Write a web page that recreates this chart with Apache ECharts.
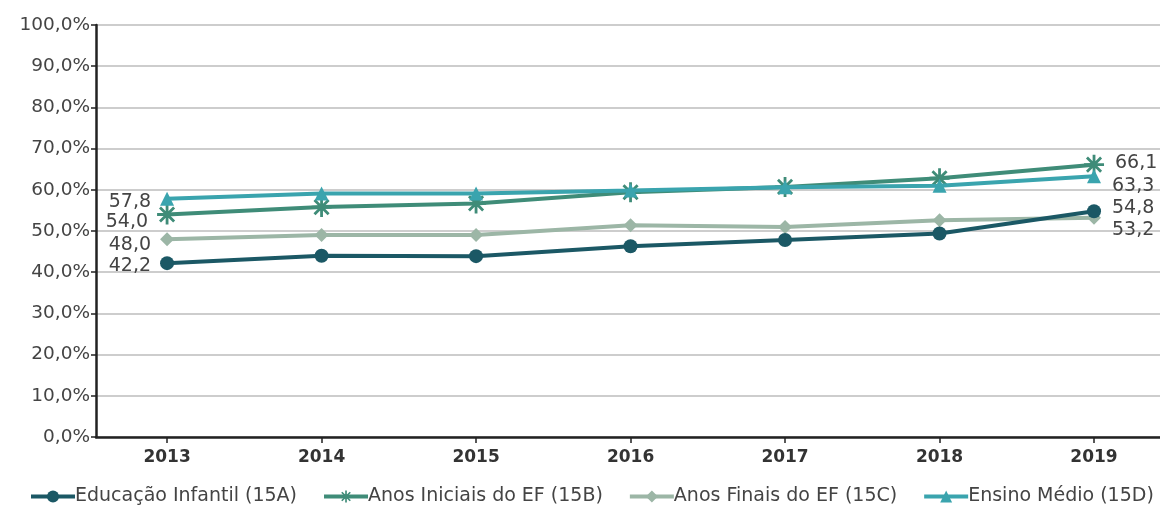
<!DOCTYPE html>
<html><head><meta charset="utf-8">
<script src="https://cdn.jsdelivr.net/npm/echarts@6/dist/echarts.min.js"></script>
<style>html,body{margin:0;padding:0;background:#fff}#c{width:1160px;height:514px}</style>
</head><body><div id="c"></div>
<script>
const categories = [2013, 2014, 2015, 2016, 2017, 2018, 2019];
const seriesNames = ['Educação Infantil (15A)','Anos Iniciais do EF (15B)','Anos Finais do EF (15C)','Ensino Médio (15D)'];
const infantil = [42.2, 44.0, 43.9, 46.3, 47.8, 49.4, 54.8];
const iniciais = [54.0, 55.8, 56.7, 59.4, 60.7, 62.8, 66.1];
const finais   = [48.0, 49.0, 49.0, 51.4, 51.0, 52.6, 53.2];
const medio    = [57.8, 59.1, 59.1, 59.8, 60.6, 61.0, 63.3];
const yTicks = [0,10,20,30,40,50,60,70,80,90,100];

const colors = ['#1b5865','#3f8c78','#9cb6a6','#3aa4ae'];
const star = 'path://M-1.4,-10 L1.4,-10 L1.4,10 L-1.4,10 Z M-10,-1.4 L10,-1.4 L10,1.4 L-10,1.4 Z M-8.06,-6.08 L-6.08,-8.06 L8.06,6.08 L6.08,8.06 Z M-8.06,6.08 L6.08,-8.06 L8.06,-6.08 L-6.08,8.06 Z';
const symbols = ['circle', star, 'diamond', 'triangle'];
const sizes = [14, 20, 14, 14];
const datasets = [infantil, iniciais, finais, medio];
const leftOffsets = [[0,3],[0,8],[0,6],[0,3]];
const rightOffsets = [[0,-3],[0,-2],[0,12],[0,10]];

const fmt = v => v.toFixed(1).replace('.', ',');
const font = '"DejaVu Sans", "Noto Sans", sans-serif';

const series = datasets.map((d, i) => ({
  name: seriesNames[i],
  type: 'line',
  data: d.map((v, j) => {
    const item = { value: [categories[j], v] };
    if (j === 0) item.label = { show: true, position: 'left', distance: 9, offset: leftOffsets[i] };
    else if (j === d.length - 1) item.label = { show: true, position: 'right', distance: 11, offset: rightOffsets[i] };
    return item;
  }),
  symbol: symbols[i],
  symbolSize: sizes[i],
  showAllSymbol: true,
  lineStyle: { color: colors[i], width: 4 },
  itemStyle: { color: colors[i] },
  label: { show: false, formatter: p => fmt(p.value[1]), color: '#444', fontSize: 19, fontFamily: font },
  z: [3,4,2,5][i]
}));

const chart = echarts.init(document.getElementById('c'), null, { renderer: 'canvas' });
chart.setOption({
  animation: false,
  color: colors,
  grid: { left: 96, right: 0, top: 25, bottom: 77, containLabel: false },
  legend: {
    bottom: 3, left: 24,
    itemWidth: 44, itemHeight: 15, itemGap: 25,
    lineStyle: { width: 4 },
    textStyle: { color: '#444', fontSize: 19, fontFamily: font, padding: [0,0,0,-5] },
    data: seriesNames
  },
  xAxis: {
    type: 'value', min: 2012.54, max: 2019.427,
    splitLine: { show: false },
    axisLine: { onZero: false, lineStyle: { color: '#222', width: 2.5 } },
    axisTick: { show: true, customValues: categories, length: 6, lineStyle: { color: '#222', width: 1.5 } },
    axisLabel: { customValues: categories, formatter: v => String(Math.round(v)),
      color: '#333', fontSize: 17, fontWeight: 'bold', fontFamily: font, margin: 12 }
  },
  yAxis: {
    type: 'value', min: 0, max: 100, interval: 10,
    axisLine: { show: true, onZero: false, lineStyle: { color: '#222', width: 2.5 } },
    axisTick: { show: true, length: 5, lineStyle: { color: '#222', width: 1.5 } },
    splitLine: { lineStyle: { color: '#bdbdbd', width: 1.5 } },
    axisLabel: { color: '#444', fontSize: 18.5, fontFamily: font, margin: 6,
      formatter: v => yTicks.includes(v) ? fmt(v) + '%' : '' }
  },
  series
});
</script></body></html>
